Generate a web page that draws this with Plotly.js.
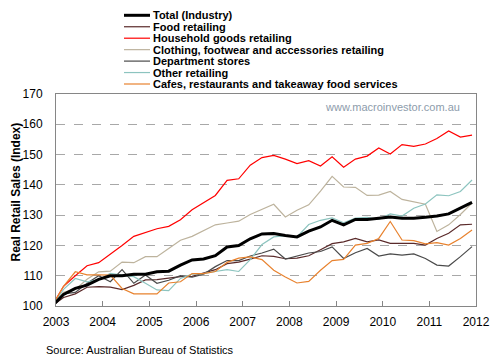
<!DOCTYPE html>
<html>
<head>
<meta charset="utf-8">
<script src="https://cdn.plot.ly/plotly-3.0.1.min.js"></script>
<style>html,body{margin:0;padding:0;background:#fff;}#chart{width:496px;height:363px;}</style>
</head>
<body>
<div id="chart"></div>
<script>
// Quarterly observations (month of quarter end), Dec 2002 .. Dec 2011
var quarters = ["2002-12-01", "2003-03-01", "2003-06-01", "2003-09-01", "2003-12-01",
  "2004-03-01", "2004-06-01", "2004-09-01", "2004-12-01",
  "2005-03-01", "2005-06-01", "2005-09-01", "2005-12-01",
  "2006-03-01", "2006-06-01", "2006-09-01", "2006-12-01",
  "2007-03-01", "2007-06-01", "2007-09-01", "2007-12-01",
  "2008-03-01", "2008-06-01", "2008-09-01", "2008-12-01",
  "2009-03-01", "2009-06-01", "2009-09-01", "2009-12-01",
  "2010-03-01", "2010-06-01", "2010-09-01", "2010-12-01",
  "2011-03-01", "2011-06-01", "2011-09-01", "2011-12-01"];

var seriesNames = ["Total (Industry)", "Food retailing", "Household goods retailing",
  "Clothing, footwear and accessories retailing", "Department stores",
  "Other retailing", "Cafes, restaurants and takeaway food services"];

var totalIndustry = [100, 103.8, 105.8, 106.9, 108.8, 110, 110, 110.5, 110.5, 111.3, 111.5, 113.5,
  115.2, 115.5, 116.6, 119.5, 120, 122.2, 123.8, 123.9, 123.3, 122.8, 124.7, 126.1,
  128.3, 126.8, 128.6, 128.6, 129, 129.4, 129, 129, 129.3, 129.7, 130.4, 132.3, 134.2];

var foodRetailing = [100, 102.8, 104, 106.2, 106.4, 106.2, 105.4, 106.8, 108.6, 108.7, 109.2, 109.7,
  109.8, 110.8, 112, 114, 114.5, 115.5, 116.6, 116.4, 115.6, 115.8, 116.6, 118.6,
  120.6, 121.2, 122.3, 121.2, 121.8, 120.7, 120.7, 120.7, 120.1, 122.3, 124, 126.8, 127];

var householdGoods = [100, 106.5, 110, 113.3, 114.3, 117, 120, 123, 124.3, 125.5, 126.3, 128.5,
  131.8, 134, 136.5, 141.5, 142, 146.5, 149, 149.7, 148.5, 147, 148, 146.2,
  149.3, 145.8, 148.5, 149.5, 152.2, 150.2, 153.3, 152.7, 153.5, 155.3, 157.8, 155.8, 156.4];

var clothing = [100, 104.5, 105.5, 108.8, 111.3, 111.5, 114.5, 114.3, 116.3, 116.3, 119, 121.7,
  123, 124.8, 126.8, 127.4, 128, 130.2, 131.8, 133.6, 129.4, 131.6, 133.4, 137.9,
  142.8, 139.3, 139.2, 136.5, 136.6, 137.8, 135.2, 134.5, 133.6, 124.6, 126.8, 130.2, 134];

var departmentStores = [100, 104, 104.5, 107.5, 110, 108, 112, 107.5, 110.2, 107.5, 108.5, 110,
  109.5, 110.5, 113, 115, 115, 116.5, 117.5, 118.8, 115.5, 116.4, 117.5, 118,
  119.5, 115.7, 117.6, 119, 116.5, 117.2, 116.8, 117.2, 115.7, 113.5, 113.2, 116.3, 119.6];

var otherRetailing = [100, 105.5, 109.1, 108, 108.6, 110.8, 110.2, 109.7, 107.5, 105.3, 105.1, 109.1,
  110.5, 110.7, 111.4, 112, 111.4, 115.3, 120.3, 122.8, 123.2, 122.8, 126.9, 128.3,
  129.1, 127.5, 129, 129.3, 128.6, 130.4, 129.7, 132.3, 133.7, 136.7, 136.4, 137.8, 141.6];

var cafesRestaurants = [100, 106.5, 111.3, 110.3, 110.3, 110.2, 105.8, 104, 104, 104, 107.6, 108,
  110.7, 110.7, 111.4, 114.4, 115.8, 116.2, 115.3, 111.8, 109.6, 107.6, 108.1, 111.8,
  115, 115.4, 120.1, 120.7, 122.3, 127.9, 121.8, 121.6, 120.5, 120.9, 120.1, 122.3, 125.1];

var yearTicks = ["2003", "2004", "2005", "2006", "2007", "2008", "2009", "2010", "2011", "2012"];

var values = [totalIndustry, foodRetailing, householdGoods, clothing, departmentStores, otherRetailing, cafesRestaurants];
var colors = ["#000000", "#5a2a2a", "#ff0000", "#bdb39d", "#4a4a4a", "#8cc4bf", "#e8822e"];
var widths = [3, 1.2, 1.2, 1.2, 1.2, 1.2, 1.2];

var traces = [];
var drawOrder = [1, 2, 3, 4, 5, 6, 0];
drawOrder.forEach(function (k) {
  traces.push({
    x: quarters, y: values[k], type: "scatter", mode: "lines", name: seriesNames[k],
    line: {color: colors[k], width: widths[k]}, showlegend: false, hoverinfo: "skip"
  });
});

// plot area in pixels
var L = 56, R = 20, T = 94, B = 57, W = 496, H = 363;
var pw = W - L - R, ph = H - T - B;
function px(x) { return (x - L) / pw; }
function py(y) { return (H - B - y) / ph; }

var shapes = [], annotations = [];
seriesNames.forEach(function (name, k) {
  var yy = py(15.3 + k * 11.45);
  shapes.push({type: "line", xref: "paper", yref: "paper", x0: px(124), x1: px(150), y0: yy, y1: yy,
    line: {color: colors[k], width: k === 0 ? 3 : 1.2}});
  annotations.push({xref: "paper", yref: "paper", x: px(151), y: yy, xanchor: "left", yanchor: "middle",
    text: "<b>" + name + "</b>", showarrow: false,
    font: {family: "Liberation Sans, Arial, sans-serif", size: 11, color: "#000"}});
});

annotations.push({xref: "paper", yref: "paper", x: px(392), y: py(106.7), xanchor: "center", yanchor: "middle",
  text: "www.macroinvestor.com.au", showarrow: false,
  font: {family: "Liberation Sans, Arial, sans-serif", size: 11, color: "#8d9cab"}});
annotations.push({xref: "paper", yref: "paper", x: px(44), y: py(350), xanchor: "left", yanchor: "middle",
  text: "Source: Australian Bureau of Statistics", showarrow: false,
  font: {family: "Liberation Sans, Arial, sans-serif", size: 11, color: "#000"}});
annotations.push({xref: "paper", yref: "paper", x: px(15), y: py(192.5), xanchor: "center", yanchor: "middle",
  text: "<b>Real Retail Sales (Index)</b>", showarrow: false, textangle: -90,
  font: {family: "Liberation Sans, Arial, sans-serif", size: 12, color: "#000"}});

var layout = {
  width: W, height: H,
  margin: {l: L, r: R, t: T, b: B, pad: 0},
  paper_bgcolor: "#ffffff", plot_bgcolor: "#ffffff",
  showlegend: false,
  font: {family: "Liberation Sans, Arial, sans-serif", size: 12, color: "#000"},
  xaxis: {
    type: "date", range: ["2003-01-01", "2012-01-01"],
    tickmode: "array", tickvals: yearTicks.map(function (y) { return y + "-01-01"; }), ticktext: yearTicks,
    ticks: "inside", ticklen: 5, tickcolor: "#868686", tickwidth: 1,
    showline: true, mirror: true, linecolor: "#868686", linewidth: 1,
    showgrid: false, zeroline: false, ticklabelstandoff: 5,
    tickfont: {family: "Liberation Sans, Arial, sans-serif", size: 12, color: "#000"}
  },
  yaxis: {
    range: [100, 170], dtick: 10, tick0: 100, ticks: "",
    showline: true, mirror: true, linecolor: "#868686", linewidth: 1,
    showgrid: true, gridcolor: "#a8a8a8", gridwidth: 1, griddash: "dash",
    zeroline: false, ticklabelstandoff: 10,
    tickfont: {family: "Liberation Sans, Arial, sans-serif", size: 12, color: "#000"}
  },
  shapes: shapes,
  annotations: annotations
};

Plotly.newPlot("chart", traces, layout, {staticPlot: true, displayModeBar: false});
</script>
</body>
</html>
